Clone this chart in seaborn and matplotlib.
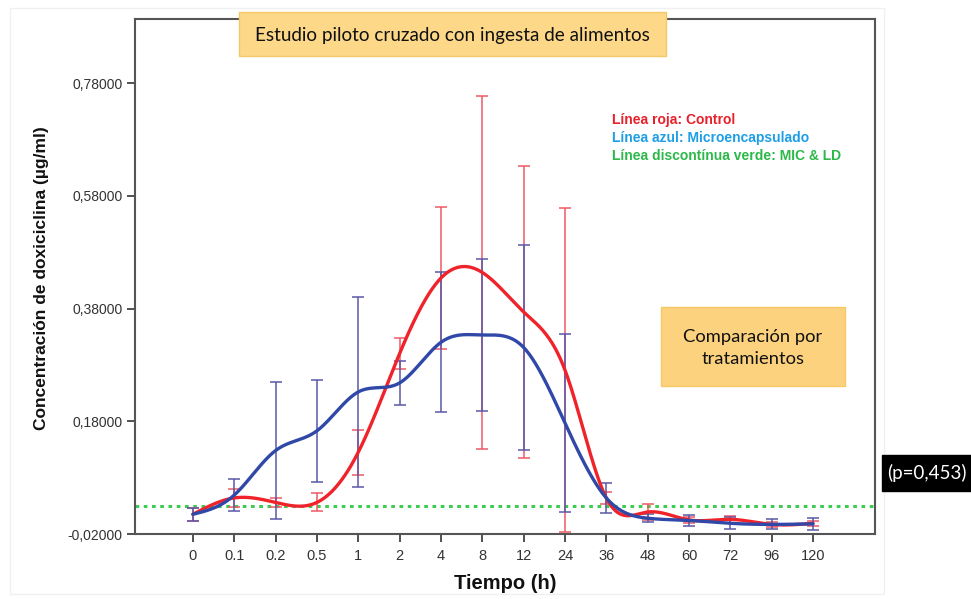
import numpy as np
import pandas as pd
import matplotlib
matplotlib.use("Agg")
import matplotlib.pyplot as plt
from matplotlib.patches import Rectangle
import seaborn as sns

# ---- data ----
time_labels = ['0', '0.1', '0.2', '0.5', '1', '2', '4', '8', '12', '24',
               '36', '48', '60', '72', '96', '120']
control_mean = [0.015, 0.044, 0.036, 0.036, 0.125, 0.300, 0.434, 0.444, 0.374,
                0.271, 0.044, 0.019, 0.005, 0.006, -0.003, -0.001]
control_err = [0.012, 0.016, 0.008, 0.016, 0.040, 0.028, 0.126, 0.313, 0.259,
               0.288, 0.011, 0.015, 0.006, 0.006, 0.005, 0.004]
micro_mean = [0.015, 0.049, 0.128, 0.163, 0.232, 0.248, 0.320, 0.333, 0.311,
              0.177, 0.044, 0.008, 0.004, -0.001, -0.003, -0.002]
micro_err = [0.012, 0.029, 0.121, 0.091, 0.169, 0.039, 0.124, 0.135, 0.182,
             0.158, 0.026, 0.007, 0.009, 0.011, 0.009, 0.011]
ld_level = 0.03
y_ticks = [-0.02, 0.18, 0.38, 0.58, 0.78]


def natural_spline(x, y, xs):
    x = np.asarray(x, float); y = np.asarray(y, float)
    n = len(x); h = np.diff(x)
    A = np.zeros((n, n)); r = np.zeros(n)
    A[0, 0] = 1; A[-1, -1] = 1
    for i in range(1, n - 1):
        A[i, i - 1] = h[i - 1]; A[i, i] = 2 * (h[i - 1] + h[i]); A[i, i + 1] = h[i]
        r[i] = 3 * ((y[i + 1] - y[i]) / h[i] - (y[i] - y[i - 1]) / h[i - 1])
    c = np.linalg.solve(A, r)
    b = (y[1:] - y[:-1]) / h - h * (2 * c[:-1] + c[1:]) / 3
    d = (c[1:] - c[:-1]) / (3 * h)
    idx = np.clip(np.searchsorted(x, xs, side='right') - 1, 0, n - 2)
    dx = xs - x[idx]
    return y[idx] + b[idx] * dx + c[idx] * dx ** 2 + d[idx] * dx ** 3


sns.set_style("white")
plt.rcParams['font.family'] = ['Liberation Sans', 'DejaVu Sans']

W, H = 971, 599
AX_TOP, AX_BOT = 19, 534
fig = plt.figure(figsize=(W / 100, H / 100), dpi=100)
ax = fig.add_axes([135 / W, 1 - AX_BOT / H, (875 - 135) / W, (AX_BOT - AX_TOP) / H])

xi = np.arange(len(time_labels))
xs = np.linspace(0, len(time_labels) - 1, 600)
smooth = pd.DataFrame({
    'x': np.concatenate([xs, xs]),
    'y': np.concatenate([natural_spline(xi, control_mean, xs),
                         natural_spline(xi, micro_mean, xs)]),
    'serie': ['Control'] * len(xs) + ['Microencapsulado'] * len(xs),
})

red_line = '#f0222a'
blue_line = '#3048a8'

ax.axhline(ld_level, color='#3ccc50', lw=2.2, ls=(0, (1.2, 1.5)), zorder=1)

ax.errorbar(xi, control_mean, yerr=control_err, fmt='none', ecolor='#ef5a64',
            elinewidth=1.1, capsize=4, capthick=1.1, zorder=2)
ax.errorbar(xi, micro_mean, yerr=micro_err, fmt='none', ecolor='#5a58a8',
            elinewidth=1.1, capsize=4, capthick=1.1, zorder=2)

sns.lineplot(data=smooth, x='x', y='y', hue='serie',
             palette={'Control': red_line, 'Microencapsulado': blue_line},
             linewidth=2.4, legend=False, ax=ax, zorder=3, sort=False,
             estimator=None)

ax.set_xlim(-1.4, 16.5)
ax.set_ylim(-0.02, 0.78 + (83 - AX_TOP) / 563.5)
ax.set_xticks(xi)
ax.set_xticklabels(time_labels)
ax.set_yticks(y_ticks)
ax.set_yticklabels([f"{v:.5f}".replace('.', ',') for v in y_ticks])
ax.tick_params(axis='both', direction='out', length=6, width=1.2,
               colors='#333333', labelsize=10, bottom=True, left=True, pad=3)
ax.tick_params(axis='x', labelsize=10.5, pad=5)
for s in ax.spines.values():
    s.set_color('#555555')
    s.set_linewidth(1.5)
ax.set_xlabel('Tiempo (h)', fontsize=14.5, fontweight='bold', labelpad=8,
              color='#111111')
ax.set_ylabel('Concentración de doxiciclina (µg/ml)', fontsize=12.5,
              fontweight='bold', color='#111111')
ax.yaxis.set_label_coords(-0.116, (AX_BOT - 278) / (AX_BOT - AX_TOP))

# legend-like annotations
fig.text(612 / W, 1 - 120 / H, 'Línea roja: Control', color='#e8202a',
         fontsize=10, fontweight='bold', va='center')
fig.text(612 / W, 1 - 138 / H, 'Línea azul: Microencapsulado', color='#1e9ee6',
         fontsize=10, fontweight='bold', va='center')
fig.text(612 / W, 1 - 156 / H, 'Línea discontínua verde: MIC & LD', color='#2db84a',
         fontsize=10, fontweight='bold', va='center')

# outer faint frame
fig.add_artist(Rectangle((10 / W, 1 - 594 / H), (884 - 10) / W, (594 - 8) / H,
                         transform=fig.transFigure, fill=False,
                         edgecolor='#f0f0f0', lw=1.0, zorder=0))

# title box
fig.add_artist(Rectangle((239 / W, 1 - 56 / H), (666 - 239) / W, (56 - 12) / H,
                         transform=fig.transFigure, facecolor='#fdd889',
                         edgecolor='#f6c766', lw=1.0, zorder=5))
fig.text(452 / W, 1 - 35 / H, 'Estudio piloto cruzado con ingesta de alimentos',
         family=['Lato', 'DejaVu Sans'], fontsize=13.6, ha='center', va='center',
         color='#111111', zorder=6)

# comparison box
fig.add_artist(Rectangle((661 / W, 1 - 386 / H), (845 - 661) / W, (386 - 307) / H,
                         transform=fig.transFigure, facecolor='#fcd27e',
                         edgecolor='#f8c866', lw=1.0, zorder=5))
fig.text(753 / W, 1 - 348 / H, 'Comparación por\ntratamientos',
         family=['Lato', 'DejaVu Sans'], fontsize=13.2, ha='center', va='center',
         color='#111111', linespacing=1.5, zorder=6)

# p-value box
fig.add_artist(Rectangle((882 / W, 1 - 491 / H), (971 - 882) / W, (491 - 455) / H,
                         transform=fig.transFigure, facecolor='black',
                         edgecolor='black', zorder=5))
fig.text(927 / W, 1 - 473 / H, '(p=0,453)', family=['Lato', 'DejaVu Sans'],
         fontsize=13.5, ha='center', va='center', color='white', zorder=6)

fig.savefig('out.png', dpi=100)
